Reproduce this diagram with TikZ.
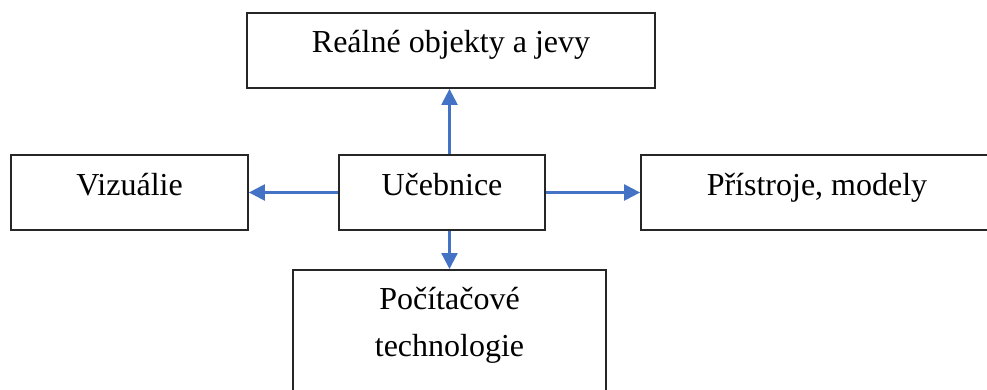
\documentclass[tikz,border=0pt]{standalone}
\usepackage{fontspec}
\setmainfont{Liberation Serif}
\usetikzlibrary{arrows.meta}
\definecolor{arrowblue}{HTML}{4472C4}
\begin{document}
\begin{tikzpicture}[x=1pt,y=-1pt,
  box/.style={draw=black!85, line width=1.8pt, inner sep=0pt, text height=40pt, text depth=35pt, font=\fontsize{32}{47}\selectfont},
  link/.style={draw=arrowblue, line width=2.4pt, -{Triangle[width=16pt,length=16pt]}}]
\useasboundingbox (0,0) rectangle (987,390);
\clip (0,0) rectangle (987,390);
\node[box, minimum width=408pt] (real) at (451,50.5){Reálné objekty a jevy};
\node[box, minimum width=237pt] (vizualie) at (129.5,192.5){Vizuálie};
\node[box, minimum width=206pt] (ucebnice) at (442,192.5){Učebnice};
\node[box, minimum width=352pt] (pristroje) at (817,192.5){Přístroje, modely};
\node[box, minimum width=313pt, align=center, text height=87pt, text depth=120pt, anchor=north] (tech) at (449.5,269){Počítačové\\technologie};
\draw[link](ucebnice.north -| tech.north) -- (real.south -| tech.north);
\draw[link](ucebnice.west) -- (vizualie.east);
\draw[link](ucebnice.east) -- (pristroje.west);
\draw[link](ucebnice.south -| tech.north) -- (tech.north);
\end{tikzpicture}
\end{document}
